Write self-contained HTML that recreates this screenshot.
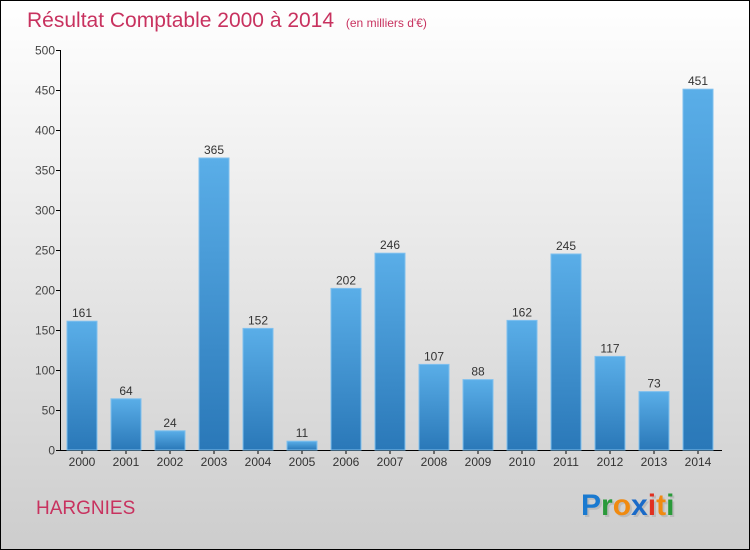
<!DOCTYPE html>
<html><head><meta charset="utf-8"><style>
body{margin:0}
#c{width:750px;height:550px;position:relative;overflow:hidden;font-family:"Liberation Sans",sans-serif}
</style></head><body>
<div id="c">
<svg width="750" height="550" xmlns="http://www.w3.org/2000/svg">
<defs>
<linearGradient id="bg" x1="0" y1="0" x2="0" y2="1"><stop offset="0" stop-color="#ffffff"/><stop offset="1" stop-color="#cdcdcd"/></linearGradient>
<linearGradient id="bar" x1="0" y1="0" x2="1" y2="0"><stop offset="0" stop-color="#3d8fd0"/><stop offset="0.5" stop-color="#5aabe6"/><stop offset="1" stop-color="#2f7fc0"/></linearGradient>
<linearGradient id="barv" x1="0" y1="0" x2="0" y2="1"><stop offset="0" stop-color="#5aaee8"/><stop offset="1" stop-color="#2a78b8"/></linearGradient>
</defs>
<rect x="0.5" y="0.5" width="749" height="549" fill="url(#bg)" stroke="#000"/>
<text x="27" y="27" font-size="21" fill="#c8325f">Résultat Comptable 2000 à 2014 <tspan font-size="12" dx="6">(en milliers d'€)</tspan></text>
<g id="axes"></g>
<g id="bars"></g>
<text x="36" y="514" font-size="19" fill="#c8325f">HARGNIES</text>
<g font-size="30" font-weight="bold" font-family="Liberation Sans, sans-serif">
<text x="583" y="517" fill="#bbb">P<tspan>r</tspan>o<tspan>x</tspan>iti</text>
<text x="581" y="515"><tspan fill="#1a7ad0">P</tspan><tspan fill="#2a9a3a">r</tspan><tspan fill="#f08a10">o</tspan><tspan fill="#1a6ac8">x</tspan><tspan fill="#e03020">i</tspan><tspan fill="#f08a10">t</tspan><tspan fill="#2a9a3a">i</tspan></text>
</g>
</svg>
</div>
<script>
const years=["2000","2001","2002","2003","2004","2005","2006","2007","2008","2009","2010","2011","2012","2013","2014"];
const values=[161,64,24,365,152,11,202,246,107,88,162,245,117,73,451];
const yTicks=[0,50,100,150,200,250,300,350,400,450,500];
const NS="http://www.w3.org/2000/svg";
const y0=450,yTop=50,vMax=500;
const yScale=v=>y0-(v/vMax)*(y0-yTop);
const xScale=i=>82+i*44;
const bw=30;
function mk(t,a,p){const e=document.createElementNS(NS,t);for(const k in a)e.setAttribute(k,a[k]);p.appendChild(e);return e;}
const ax=document.getElementById('axes'),bg=document.getElementById('bars');
const yl=mk('line',{x1:60.5,y1:yTop,x2:60.5,y2:y0,stroke:'#000'},ax);


const xl=mk('line',{x1:60,y1:y0+0.5,x2:722,y2:y0+0.5,stroke:'#000'},ax);


yTicks.forEach(t=>{const y=Math.round(yScale(t))+0.5;
const tk=mk('line',{x1:56,y1:y,x2:60,y2:y,stroke:'#000'},ax);


const tx=mk('text',{x:55,y:y+4,'font-size':12,fill:'#444','text-anchor':'end'},ax);tx.textContent=t;

});
values.forEach((v,i)=>{const cx=xScale(i),y=yScale(v);
const r=mk('rect',{x:cx-bw/2,y:y,width:bw,height:y0-y,fill:'url(#barv)',stroke:'#7fc0ee','stroke-width':1},bg);


const l=mk('text',{x:cx,y:y-4,'font-size':12,fill:'#333','text-anchor':'middle'},bg);l.textContent=v;


const tk=mk('line',{x1:cx,y1:y0,x2:cx,y2:y0+4,stroke:'#000'},ax);


const xt=mk('text',{x:cx,y:466,'font-size':12,fill:'#333','text-anchor':'middle'},ax);xt.textContent=years[i];

});
</script>
</body></html>
